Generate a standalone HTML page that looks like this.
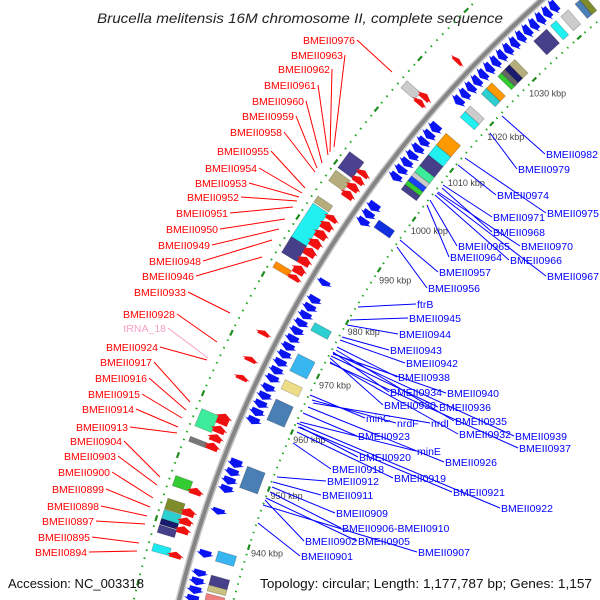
<!DOCTYPE html>
<html><head><meta charset="utf-8"><style>
html,body{margin:0;background:#fff;width:600px;height:600px;overflow:hidden;}
svg{display:block;font-family:"Liberation Sans","DejaVu Sans",sans-serif;overflow:hidden;}
</style></head><body>
<svg id="chart" width="600" height="600" viewBox="0 0 600 600" xmlns="http://www.w3.org/2000/svg">
<text x="97" y="23" font-size="14" font-style="italic" fill="#222" textLength="406" lengthAdjust="spacingAndGlyphs">Brucella melitensis 16M chromosome II, complete sequence</text>
<g id="layer"></g>
<text x="8" y="588" font-size="13" fill="#111" textLength="136" lengthAdjust="spacingAndGlyphs">Accession: NC_003318</text>
<text x="260" y="588" font-size="13" fill="#111" textLength="332" lengthAdjust="spacingAndGlyphs">Topology: circular; Length: 1,177,787 bp; Genes: 1,157</text>
</svg>
<script>
// ---- data (kbp) ----
const tickKbp = [940,950,960,970,980,990,1000,1010,1020,1030];
const tickLabels = ["940 kbp","950 kbp","960 kbp","970 kbp","980 kbp","990 kbp","1000 kbp","1010 kbp","1020 kbp","1030 kbp"];
// reverse-strand genes (blue) [start,end]
const revGenes = [[929,930.2],[930.4,931.6],[931.8,933],[933.2,934.3],[936.3,937.5],[943.4,944.4],[947,948.2],[948.4,949.6],[949.8,951],[951.2,952.6],
 [958.6,959.8],[960,961.2],[961.4,962.6],[962.8,964],[964.2,965.4],[965.8,967],[967.2,968.4],[968.6,969.8],[970,971.2],[971.4,972.6],[972.8,974],[974.2,975.4],[975.6,976.8],[977,978.2],[978.4,979.6],[979.8,981],
 [983,984],[994.3,995.5],[995.7,996.9],[997.1,998.5],[1003,1004.2],[1004.4,1005.6],[1005.8,1007],[1007.2,1008.4],[1008.6,1009.8],[1010,1011.2],[1011.4,1012.6],[1012.8,1014.2],
 [1018.5,1019.7],[1019.9,1021.1],[1021.3,1022.5],[1022.7,1023.9],[1024.1,1025.3],[1025.5,1026.7],[1026.9,1028.1],[1028.3,1029.5],[1029.7,1030.9],[1031.1,1032.3],[1032.5,1033.7],[1033.9,1035.1],[1035.3,1036.5],[1036.7,1037.9],[1038.1,1039.3],[1039.5,1040.8]];
// forward-strand genes (red)
const fwdGenes = [[935,936],[938.9,940.1],[940.3,941.5],[941.7,943],[945.2,946.3],[952.5,953.7],[953.9,955.1],[955.3,956.5],[956.7,958.5],[964.2,965],[967.3,968.1],[971.8,972.6],
 [981.5,982.4],[982.6,984],[984.2,985.6],[985.8,987.2],[987.4,988.8],[989,990.4],[990.6,992],[992.2,993.2],[996.5,997.7],[997.9,999.1],[999.3,1000.4],[1000.6,1001.6],[1014.6,1015.5],[1015.7,1016.7],[1023.3,1024]];
// outer feature boxes [start,end,color]
const outerBoxes = [[935.1,936.3,"#20e8f0"],[938,939.2,"#463f8a"],[939.3,940.2,"#1a1a6e"],[940.2,941.6,"#2ccfd0"],[941.7,943.4,"#7f8c2c"],[945.4,947,"#33cc33"],[952.5,953.3,"#777777"],[955,957.8,"#3dec9a"],
 [981.6,982.6,"#ff8c00"],[984.2,987,"#463f8a"],[987,993,"#20f0f0"],[993.2,994.3,"#b5ae7c"],[997.1,999,"#b5ae7c"],[999.5,1002.5,"#4a4290"],[1014.8,1016.2,"#cccccc"]];
// inner feature boxes
const innerBoxes = [[930,931,"#f08080"],[931.4,932.4,"#c8c080"],[932.4,934,"#463f8a"],[936.3,938,"#38b6f0"],[948.6,952.2,"#4a7fb5"],[960.2,963.8,"#4a7fb5"],[965.6,967.2,"#eedd88"],[968.8,971.8,"#38b6f0"],[976,977.4,"#2ccfd0"],
 [995.2,996.6,"#1030e0"],[1002.6,1003.6,"#463f8a"],[1003.6,1004.4,"#33cc33"],[1004.4,1005.3,"#1a40ff"],[1005.3,1006.1,"#cccccc"],[1006.1,1007.4,"#3dec9a"],[1007.4,1009.6,"#463f8a"],[1009.6,1011.6,"#20f0f0"],[1011.6,1014,"#ff9900"],
 [1017.4,1018.6,"#20f0f0"],[1018.6,1019.8,"#cccccc"],[1022.4,1023.6,"#2ccfd0"],[1023.6,1024.8,"#ff9900"],[1026.2,1027,"#33cc33"],[1027,1027.8,"#666666"],[1027.8,1028.8,"#1a1a6e"],[1028.8,1030,"#b5ae7c"],
 [1034.2,1037,"#463f8a"],[1037.8,1039,"#20f0f0"],[1040,1041.6,"#cccccc"],[1043,1044,"#4a7fb5"],[1044,1045,"#7f8c2c"]];
// labels: [text, textX, textY, lineEndX, lineEndY]
const leftLabels = [["BMEII0976",355,44,392,72],["BMEII0963",343,59,334,147],["BMEII0962",330,73,330,152],["BMEII0961",316,89,328,155],["BMEII0960",304,105,322,163],["BMEII0959",294,120,317,168],["BMEII0958",282,136,315,172],
 ["BMEII0955",269,155,305,188],["BMEII0954",257,172,302,193],["BMEII0953",247,187,299,197],["BMEII0952",239,201,297,201],["BMEII0951",228,217,293,207],["BMEII0950",218,233,285,219],["BMEII0949",210,249,279,229],["BMEII0948",201,265,272,240],["BMEII0946",194,280,262,257],["BMEII0933",186,296,230,313],
 ["BMEII0928",175,318,217,342],["BMEII0924",158,351,207,360],["BMEII0917",152,366,190,402],["BMEII0916",147,382,186,410],["BMEII0915",140,398,182,418],["BMEII0914",134,413,178,427],["BMEII0913",128,431,177,433],["BMEII0904",122,445,160,477],["BMEII0903",116,460,157,485],["BMEII0900",110,476,153,498],
 ["BMEII0899",104,493,150,507],["BMEII0898",99,510,147,516],["BMEII0897",94,525,145,524],["BMEII0895",90,541,139,543],["BMEII0894",87,556,137,551]];
const rightLabels = [["BMEII0982",546,158,502,116],["BMEII0979",518,173,490,133],["BMEII0974",497,199,458,165],["BMEII0975",547,217,465,158],["BMEII0971",493,221,443,185],["BMEII0968",493,236,442,188],["BMEII0970",521,250,438,192],["BMEII0965",458,250,430,200],["BMEII0966",510,264,435,195],["BMEII0964",450,261,427,205],["BMEII0967",547,280,437,193],
 ["BMEII0957",439,276,400,240],["BMEII0956",428,292,397,247],["ftrB",417,308,358,307],["BMEII0945",409,322,350,320],["BMEII0944",399,338,347,325],["BMEII0943",390,354,342,337],["BMEII0942",406,367,340,340],["BMEII0938",398,381,337,347],["BMEII0934",390,396,333,352],["BMEII0940",447,397,333,354],
 ["BMEII0930",384,409,330,358],["BMEII0936",439,411,331,356],["minC",366,422,310,395],["nrdF",397,427,312,400],["nrdI",431,427,313,403],["BMEII0935",455,425,336,350],["BMEII0923",358,440,303,413],["BMEII0932",459,438,330,362],["BMEII0939",515,440,333,353],["BMEII0937",519,452,330,363],
 ["minE",417,455,300,422],["BMEII0926",445,466,308,407],["BMEII0920",359,461,300,427],["BMEII0918",332,473,293,443],["BMEII0919",394,482,297,432],["BMEII0912",327,485,277,477],["BMEII0921",453,496,298,427],["BMEII0911",322,499,273,482],["BMEII0909",336,517,272,487],["BMEII0922",501,512,297,423],
 ["BMEII0906-BMEII0910",342,532,270,492],["BMEII0902",305,545,265,500],["BMEII0905",358,545,266,498],["BMEII0907",418,556,263,505],["BMEII0901",301,560,258,523]];

// ---- geometry ----
const CX=1330, CY=886, R=1186;
const NS="http://www.w3.org/2000/svg";
const layer=document.getElementById('layer');
function P(k,r){const t=(197.4+(k-940)*0.311)*Math.PI/180;return [CX+r*Math.cos(t),CY+r*Math.sin(t)];}
function mk(tag,attrs,parent){const e=document.createElementNS(NS,tag);for(const a in attrs)e.setAttribute(a,attrs[a]);(parent||layer).appendChild(e);return e;}
function poly(pts){return pts.map(p=>p[0].toFixed(1)+","+p[1].toFixed(1)).join(" ");}

// backbone
let bb=mk('circle',{cx:CX,cy:CY,r:R,fill:'none',stroke:'#c8c8c8','stroke-width':7});


let bb2=mk('circle',{cx:CX,cy:CY,r:R,fill:'none',stroke:'#858585','stroke-width':4});



// dotted rings
[1133,1230].forEach((rr,ri)=>{
  for(let k=920;k<=1050;k+=1.25){
    const major=Math.abs(k/10-Math.round(k/10))<0.01;
    const a=P(k-(major?0.45:0.12),rr),b=P(k+(major?0.45:0.12),rr);
    const d=mk('line',{x1:a[0],y1:a[1],x2:b[0],y2:b[1],stroke:major?'#1e8c1e':'#22aa22','stroke-width':major?2.2:2});
    
    
  }
});

// tick labels
tickKbp.forEach((k,i)=>{
  const p=P(k,1114);
  const t=mk('text',{x:p[0],y:p[1]+3.5,'text-anchor':'middle','font-size':9,fill:'#444'});
  t.textContent=tickLabels[i];
  
  
});

// boxes
function box(s,e,r0,r1,col,name){
  const pts=[P(s,r0),P(e,r0),P(e,r1),P(s,r1)];
  const g=mk('polygon',{points:poly(pts),fill:col,stroke:'rgba(0,0,0,0.25)','stroke-width':0.7});
  
  
}
outerBoxes.forEach(b=>box(b[0],b[1],1207,1225,b[2],'outer-feature-box'));
innerBoxes.forEach(b=>box(b[0],b[1],1142,1161,b[2],'inner-feature-box'));

// arrows
function arrow(s,e,r0,r1,col,fwd,name){
  const len=e-s,h=Math.min(0.7,len*0.65),rm=(r0+r1)/2;
  let pts;
  if(fwd) pts=[P(s,r0+3),P(e-h,r0+3),P(e-h,r0),P(e,rm),P(e-h,r1),P(e-h,r1-3),P(s,r1-3)];
  else pts=[P(e,r0+3),P(s+h,r0+3),P(s+h,r0),P(s,rm),P(s+h,r1),P(s+h,r1-3),P(e,r1-3)];
  const g=mk('polygon',{points:poly(pts),fill:col});
  
  
}
revGenes.forEach(g=>arrow(g[0],g[1],1164,1182,'#0a14f0',false,'reverse-gene-arrow'));
fwdGenes.forEach(g=>arrow(g[0],g[1],1192,1210,'#f01010',true,'forward-gene-arrow'));

// labels
leftLabels.forEach(l=>{
  const ln=mk('line',{x1:l[1]+2,y1:l[2]-4,x2:l[3],y2:l[4],stroke:'#f00','stroke-width':1});
  
  
  const t=mk('text',{x:l[1],y:l[2],'text-anchor':'end','font-size':10.5,fill:'#f00'});
  t.textContent=l[0];
  
  
});
{
  const ln=mk('line',{x1:168,y1:328,x2:208,y2:358,stroke:'#f8a0c8','stroke-width':1});
  
  
  const t=mk('text',{x:166,y:332,'text-anchor':'end','font-size':10.5,fill:'#f8a0c8'});
  t.textContent='tRNA_18';
  
  
}
rightLabels.forEach(l=>{
  const ln=mk('line',{x1:l[1]-1,y1:l[2]-4,x2:l[3],y2:l[4],stroke:'#00f','stroke-width':1});
  
  
  const t=mk('text',{x:l[1],y:l[2],'font-size':10.5,fill:'#00f'});
  t.textContent=l[0];
  
  
});
</script>
</body></html>
